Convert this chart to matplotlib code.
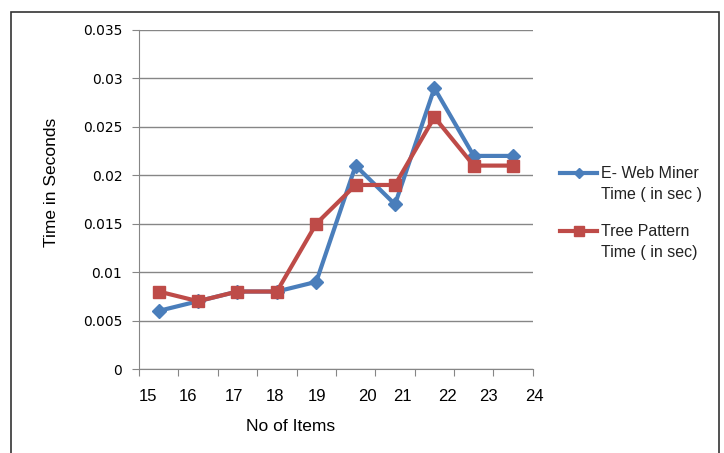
import matplotlib.pyplot as plt
from matplotlib.lines import Line2D
from matplotlib.patches import Rectangle

# Timing results per number of items
items = ['15', '16', '17', '18', '19', '20', '21', '22', '23', '24']
web_miner = [0.006, 0.007, 0.008, 0.008, 0.009, 0.021, 0.017, 0.029, 0.022, 0.022]
tree_pattern = [0.008, 0.007, 0.008, 0.008, 0.015, 0.019, 0.019, 0.026, 0.021, 0.021]
yticks = [0, 0.005, 0.01, 0.015, 0.02, 0.025, 0.03, 0.035]
ytick_labels = ['0', '0.005', '0.01', '0.015', '0.02', '0.025', '0.03', '0.035']
series_names = [['E- Web Miner', 'Time ( in sec )'], ['Tree Pattern', 'Time ( in sec)']]
colors = ['#4A7EBB', '#BE4B48']
markers = ['D', 's']

# label positions along the category axis (labels sit a little off the ticks)
label_pos = [0.23, 1.24, 2.41, 3.45, 4.52, 5.79, 6.70, 7.84, 8.86, 10.05]

plt.rcParams['font.family'] = ['Liberation Sans', 'DejaVu Sans']

W, H = 724, 453
fig = plt.figure(figsize=(W / 100, H / 100), dpi=100)
ax = fig.add_axes([0.192, 0.1854, 0.544, 0.7484])

# outer chart frame
fig.patches.append(Rectangle((11 / W, -0.01), 708 / W, 1 - 12 / H + 0.01,
                             transform=fig.transFigure, fill=False,
                             edgecolor='#333333', linewidth=1.2))

x = [i + 0.5 for i in range(len(items))]
ax.plot(x, web_miner, marker=markers[0], color=colors[0], linewidth=3,
        markersize=7, zorder=3)
ax.plot(x, tree_pattern, marker=markers[1], color=colors[1], linewidth=3,
        markersize=8.5, zorder=4)

ax.set_xlim(0, len(items))
ax.set_ylim(0, 0.035)
ax.set_yticks(yticks)
ax.set_yticklabels(ytick_labels, fontsize=10, family='DejaVu Sans')
ax.set_xticks(range(len(items) + 1))
ax.set_xticklabels([])
for pos, lab in zip(label_pos, items):
    ax.text(pos, -0.0028, lab, ha='center', va='center', fontsize=12,
            transform=ax.transData)

ax.grid(axis='y', color='#868686', linewidth=1)
ax.set_axisbelow(True)
for side in ['top', 'right']:
    ax.spines[side].set_visible(False)
for side in ['left', 'bottom']:
    ax.spines[side].set_color('#868686')
ax.tick_params(axis='both', direction='out', length=5, color='#868686', pad=7)

ax.set_ylabel('Time in Seconds', fontsize=12.5)
ax.yaxis.set_label_coords(-0.203, 0.55)
ax.text(0.385, -0.17, 'No of Items', ha='center', va='center', fontsize=12.5,
        transform=ax.transAxes)

# legend: handle sits on the first line of each two-line label
for i, (name, col, mk) in enumerate(zip(series_names, colors, markers)):
    y0 = 173 + i * 58
    fig.add_artist(Line2D([560 / W, 597 / W], [1 - y0 / H, 1 - y0 / H],
                          transform=fig.transFigure, color=col, linewidth=3))
    fig.add_artist(Line2D([578.5 / W], [1 - y0 / H], transform=fig.transFigure,
                          color=col, marker=mk, markersize=5.5 if mk == 'D' else 7,
                          linestyle='none'))
    for j, line in enumerate(name):
        fig.text(601 / W, 1 - (y0 + 22 * j) / H, line, fontsize=11.5,
                 color='#222222', ha='left', va='center')

plt.savefig('out.png', dpi=100)
